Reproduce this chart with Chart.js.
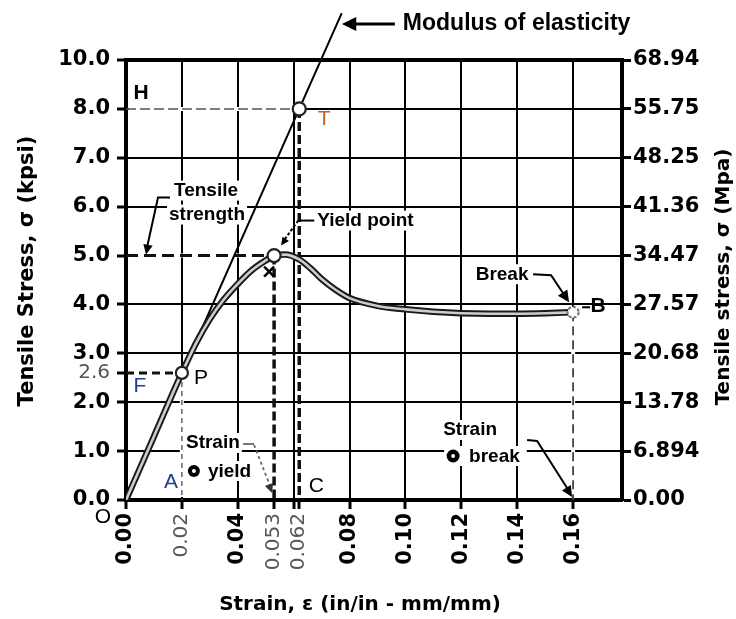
<!DOCTYPE html>
<html>
<head>
<meta charset="utf-8">
<script src="https://cdn.jsdelivr.net/npm/chart.js@4.4.1/dist/chart.umd.min.js"></script>
<style>
  html, body { margin: 0; padding: 0; background: #fff; }
</style>
</head>
<body>
<canvas id="stressStrain" width="736" height="619"></canvas>
<script>
// stress-strain curve, strain in in/in, stress in kpsi
const strain = [0, 0.01, 0.02, 0.025, 0.03, 0.035, 0.04, 0.045, 0.05, 0.053, 0.057, 0.062,
                0.066, 0.07, 0.075, 0.08, 0.09, 0.10, 0.11, 0.12, 0.13, 0.14, 0.15, 0.16];
const stress = [0, 1.3, 2.6, 3.2, 3.7, 4.1, 4.42, 4.7, 4.9, 5.0, 5.02, 4.92,
                4.74, 4.52, 4.3, 4.13, 3.97, 3.9, 3.85, 3.82, 3.81, 3.81, 3.82, 3.84];

// modulus of elasticity line through the origin and T
const modulusStrain = [0, 0.062, 0.0772];
const modulusStress = [0, 8.0, 9.96];

// marked points: P, yield point, T, break
const markStrain = [0.02, 0.053, 0.062, 0.16];
const markStress = [2.6, 5.0, 8.0, 3.84];

// axis ticks (the top kpsi line sits one step above 8.0 and reads 10.0)
const kpsiTicks = [0, 1, 2, 2.6, 3, 4, 5, 6, 7, 8, 9];
const kpsiLabels = ['0.0', '1.0', '2.0', '2.6', '3.0', '4.0', '5.0', '6.0', '7.0', '8.0', '10.0'];
const mpaTicks = [0, 1, 2, 3, 4, 5, 6, 7, 8, 9];
const mpaLabels = ['0.00', '6.894', '13.78', '20.68', '27.57', '34.47', '41.36', '48.25', '55.75', '68.94'];
const strainTicks = [0, 0.02, 0.04, 0.053, 0.06, 0.062, 0.08, 0.10, 0.12, 0.14, 0.16];
const strainLabels = ['0.00', '0.02', '0.04', '0.053', '', '0.062', '0.08', '0.10', '0.12', '0.14', '0.16'];
const thinStrain = [0.02, 0.053, 0.062];

const curve = strain.map((s, i) => ({ x: s, y: stress[i] }));
const modulus = modulusStrain.map((s, i) => ({ x: s, y: modulusStress[i] }));

const BOLD_TICK = { family: 'DejaVu Sans', size: 21, weight: 'bold' };
const THIN_TICK = { family: 'DejaVu Sans', size: 20, weight: 'normal' };
const NOTE = 'bold 19px "Liberation Sans"';

function arrowHead(ctx, fx, fy, tx, ty, size) {
  const a = Math.atan2(ty - fy, tx - fx);
  ctx.beginPath();
  ctx.moveTo(tx, ty);
  ctx.lineTo(tx - size * Math.cos(a - 0.45), ty - size * Math.sin(a - 0.45));
  ctx.lineTo(tx - size * Math.cos(a + 0.45), ty - size * Math.sin(a + 0.45));
  ctx.closePath();
  ctx.fill();
}

function polyline(ctx, pts) {
  ctx.beginPath();
  ctx.moveTo(pts[0][0], pts[0][1]);
  for (let i = 1; i < pts.length; i++) ctx.lineTo(pts[i][0], pts[i][1]);
  ctx.stroke();
}

// text with a white box behind it so grid lines break around it
function note(ctx, str, px, py, font, align, color, bg) {
  ctx.font = font;
  ctx.textAlign = align || 'center';
  ctx.textBaseline = 'middle';
  if (bg !== false) {
    const w = ctx.measureText(str).width;
    const left = align === 'left' ? px : px - w / 2;
    ctx.fillStyle = '#fff';
    ctx.fillRect(left - 2, py - 10, w + 4, 20);
  }
  ctx.fillStyle = color || '#000';
  ctx.fillText(str, px, py);
}

function circle(ctx, px, py, r, stroke, dash) {
  ctx.setLineDash(dash || []);
  ctx.beginPath();
  ctx.arc(px, py, r, 0, Math.PI * 2);
  ctx.fillStyle = '#fff';
  ctx.fill();
  ctx.lineWidth = 2.2;
  ctx.strokeStyle = stroke;
  ctx.stroke();
  ctx.setLineDash([]);
}

const notesPlugin = {
  id: 'notes',
  beforeDatasetsDraw(chart) {
    const { ctx, scales: { x, y } } = chart;
    const X = v => x.getPixelForValue(v);
    const Y = v => y.getPixelForValue(v);
    const [pS, ysS, tS, bS] = markStrain;
    const [pV, ysV, tV, bV] = markStress;
    ctx.save();

    // guide lines: [x1, y1, x2, y2, dash, width, colour, hides grid]
    const guides = [
      [0, tV, tS, tV, [10, 4], 1.5, '#555', true],
      [0, ysV, ysS, ysV, [12, 6], 3, '#111', true],
      [0, pV, pS, pV, [8, 5], 3, '#111', false],
      [pS, pV, pS, 0, [5, 4], 1.5, '#666', true],
      [ysS, ysV, ysS, 0, [9, 4], 3.5, '#111', false],
      [tS, tV, tS, 0, [9, 4], 3.5, '#111', false],
      [bS, bV, bS, 0, [9, 5], 1.8, '#444', true]
    ];
    guides.forEach(g => {
      let x1 = X(g[0]), y1 = Y(g[1]), x2 = X(g[2]), y2 = Y(g[3]);
      if (g[7]) {
        ctx.setLineDash([]);
        ctx.strokeStyle = '#fff';
        ctx.lineWidth = 4;
        const hx1 = g[0] === 0 ? x1 + 3 : x1;
        const hy2 = g[3] === 0 ? y2 - 3 : y2;
        polyline(ctx, [[hx1, y1], [x2, hy2]]);
      }
      ctx.setLineDash(g[4]);
      ctx.strokeStyle = g[6];
      ctx.lineWidth = g[5];
      polyline(ctx, [[x1, y1], [x2, y2]]);
    });
    ctx.setLineDash([]);

    // Tensile strength
    note(ctx, 'Tensile', X(0) + 80, Y(ysV) - 65, NOTE);
    note(ctx, 'strength', X(0) + 81, Y(ysV) - 41, NOTE);
    ctx.strokeStyle = '#000';
    ctx.fillStyle = '#000';
    ctx.lineWidth = 2;
    polyline(ctx, [[X(0) + 44, Y(ysV) - 58], [X(0) + 32, Y(ysV) - 58], [X(0) + 21, Y(ysV) - 8]]);
    arrowHead(ctx, X(0) + 32, Y(ysV) - 58, X(0) + 20, Y(ysV) - 1, 11);

    // Yield point
    note(ctx, 'Yield point', X(tS) + 18, Y(ysV) - 35, NOTE, 'left');
    ctx.strokeStyle = '#000';
    ctx.fillStyle = '#000';
    ctx.lineWidth = 2;
    polyline(ctx, [[X(tS) + 15, Y(ysV) - 35], [X(tS) - 1, Y(ysV) - 35]]);
    ctx.setLineDash([3, 2]);
    polyline(ctx, [[X(tS) - 1, Y(ysV) - 35], [X(ysS) + 9, Y(ysV) - 14]]);
    ctx.setLineDash([]);
    arrowHead(ctx, X(tS) - 1, Y(ysV) - 35, X(ysS) + 7, Y(ysV) - 10, 9);

    // Strain @ yield
    note(ctx, 'Strain', X(pS) + 31, Y(0) - 57, NOTE);
    ctx.font = NOTE;
    const yw = ctx.measureText('yield').width;
    ctx.fillStyle = '#fff';
    ctx.fillRect(X(pS) + 4, Y(0) - 39, yw + 30, 20);
    ctx.fillStyle = '#000';
    ctx.beginPath();
    ctx.arc(X(pS) + 12, Y(0) - 29, 6, 0, Math.PI * 2);
    ctx.fill();
    ctx.fillStyle = '#fff';
    ctx.beginPath();
    ctx.arc(X(pS) + 12, Y(0) - 29, 2, 0, Math.PI * 2);
    ctx.fill();
    note(ctx, 'yield', X(pS) + 26, Y(0) - 28, NOTE, 'left', '#000', false);
    ctx.strokeStyle = '#666';
    ctx.fillStyle = '#333';
    ctx.lineWidth = 1.8;
    polyline(ctx, [[X(ysS) - 31, Y(0) - 56], [X(ysS) - 20, Y(0) - 56]]);
    ctx.setLineDash([3, 3]);
    polyline(ctx, [[X(ysS) - 20, Y(0) - 55], [X(ysS) - 4, Y(0) - 14]]);
    ctx.setLineDash([]);
    arrowHead(ctx, X(ysS) - 9, Y(0) - 26, X(ysS) - 2, Y(0) - 7, 10);

    // Strain @ break
    note(ctx, 'Strain', X(bS) - 103, Y(0) - 70, NOTE);
    ctx.font = NOTE;
    const bw = ctx.measureText('break').width;
    ctx.fillStyle = '#fff';
    ctx.fillRect(X(bS) - 129, Y(0) - 54, bw + 32, 20);
    ctx.fillStyle = '#000';
    ctx.beginPath();
    ctx.arc(X(bS) - 120, Y(0) - 44, 6.5, 0, Math.PI * 2);
    ctx.fill();
    ctx.fillStyle = '#fff';
    ctx.beginPath();
    ctx.arc(X(bS) - 120, Y(0) - 44, 2, 0, Math.PI * 2);
    ctx.fill();
    note(ctx, 'break', X(bS) - 104, Y(0) - 43, NOTE, 'left', '#000', false);
    ctx.strokeStyle = '#000';
    ctx.fillStyle = '#000';
    ctx.lineWidth = 2;
    polyline(ctx, [[X(bS) - 46, Y(0) - 60], [X(bS) - 36, Y(0) - 59], [X(bS) - 6, Y(0) - 12]]);
    arrowHead(ctx, X(bS) - 36, Y(0) - 59, X(bS) - 1, Y(0) - 3, 12);

    // Break
    note(ctx, 'Break', X(bS) - 71, Y(bV) - 38, NOTE);
    ctx.strokeStyle = '#000';
    ctx.fillStyle = '#000';
    ctx.lineWidth = 2;
    polyline(ctx, [[X(bS) - 40, Y(bV) - 38], [X(bS) - 22, Y(bV) - 37], [X(bS) - 8, Y(bV) - 16]]);
    arrowHead(ctx, X(bS) - 22, Y(bV) - 37, X(bS) - 4, Y(bV) - 10, 13);

    ctx.restore();
  },
  afterDatasetsDraw(chart) {
    const { ctx, scales: { x, y } } = chart;
    const X = v => x.getPixelForValue(v);
    const Y = v => y.getPixelForValue(v);
    const [pS, ysS, tS, bS] = markStrain;
    const [pV, ysV, tV, bV] = markStress;
    ctx.save();

    circle(ctx, X(pS), Y(pV), 6, '#222');
    circle(ctx, X(ysS), Y(ysV), 6.5, '#222');
    circle(ctx, X(tS), Y(tV), 6.5, '#222');
    circle(ctx, X(bS), Y(bV), 5.5, '#777', [3, 2]);

    // small cross under the yield point
    ctx.strokeStyle = '#000';
    ctx.lineWidth = 2.5;
    const cx = X(ysS) - 5, cy = Y(ysV) + 16;
    polyline(ctx, [[cx - 5, cy - 5], [cx + 5, cy + 5]]);
    polyline(ctx, [[cx - 5, cy + 5], [cx + 5, cy - 5]]);

    // point letters
    const LETTER = '21px "Liberation Sans"';
    const LETTER_B = 'bold 21px "Liberation Sans"';
    note(ctx, 'H', X(0) + 15, Y(tV) - 16, LETTER_B, 'center', '#000', false);
    note(ctx, 'T', X(tS) + 25, Y(tV) + 10, LETTER, 'center', '#c4651c', false);
    note(ctx, 'P', X(pS) + 19, Y(pV) + 5, LETTER, 'center', '#000', false);
    note(ctx, 'F', X(0) + 14, Y(pV) + 13, LETTER, 'center', '#1d3f8c', false);
    note(ctx, 'A', X(pS) - 11, Y(0) - 18, LETTER, 'center', '#1d3f8c', false);
    note(ctx, 'C', X(tS) + 17, Y(0) - 14, LETTER, 'center', '#000', false);
    note(ctx, 'B', X(bS) + 25, Y(bV) - 6, LETTER_B, 'center', '#000', false);
    note(ctx, 'O', X(0) - 23, Y(0) + 17, LETTER, 'center', '#000', false);
    ctx.strokeStyle = '#000';
    ctx.lineWidth = 2;
    polyline(ctx, [[X(bS) + 9, Y(bV) - 5], [X(bS) + 17, Y(bV) - 5]]);

    // Modulus of elasticity call-out above the plot
    const ty = chart.chartArea.top - 36;
    const slope = modulusStress[1] / modulusStrain[1];
    const lineX = X(y.getValueForPixel(ty) / slope);
    ctx.font = 'bold 23px "Liberation Sans"';
    ctx.textAlign = 'left';
    ctx.textBaseline = 'middle';
    ctx.fillStyle = '#000';
    ctx.fillText('Modulus of elasticity', lineX + 66, ty);
    ctx.lineWidth = 3;
    polyline(ctx, [[lineX + 58, ty], [lineX + 14, ty]]);
    arrowHead(ctx, lineX + 30, ty, lineX + 5, ty, 16);

    // axis titles
    ctx.font = 'bold 21px "DejaVu Sans"';
    ctx.textAlign = 'center';
    ctx.fillStyle = '#000';
    ctx.save();
    ctx.translate(28, 271);
    ctx.rotate(-Math.PI / 2);
    ctx.fillText('Tensile Stress, \u03c3 (kpsi)', 0, 0);
    ctx.restore();
    ctx.save();
    ctx.font = 'bold 20px "DejaVu Sans"';
    ctx.translate(724, 277);
    ctx.rotate(-Math.PI / 2);
    ctx.fillText('Tensile stress, \u03c3 (Mpa)', 0, 0);
    ctx.restore();
    ctx.font = 'bold 20px "DejaVu Sans"';
    ctx.fillText('Strain, \u03b5 (in/in - mm/mm)', 360, 605);

    ctx.restore();
  }
};

const gridWidth = c => (c.tick && c.tick.value === 9 ? 4 : 2);

new Chart(document.getElementById('stressStrain'), {
  type: 'scatter',
  data: {
    datasets: [
      {
        data: modulus,
        showLine: true,
        borderColor: '#000',
        borderWidth: 2,
        pointRadius: 0,
        clip: false,
        order: 2
      },
      {
        // dark outer edge of the curve
        data: curve,
        showLine: true,
        borderColor: '#1a1a1a',
        borderWidth: 6.5,
        pointRadius: 0,
        cubicInterpolationMode: 'monotone',
        order: 1
      },
      {
        // light core on top, gives the double-line look
        data: curve,
        showLine: true,
        borderColor: '#c9cdd6',
        borderWidth: 2.6,
        pointRadius: 0,
        cubicInterpolationMode: 'monotone',
        order: 0
      }
    ]
  },
  options: {
    responsive: false,
    animation: false,
    layout: { padding: { top: 60, left: 0, right: 0, bottom: 0 } },
    plugins: { legend: { display: false }, tooltip: { enabled: false } },
    scales: {
      x: {
        type: 'linear',
        min: 0,
        max: 0.1775,
        afterBuildTicks: s => { s.ticks = strainTicks.map(v => ({ value: v })); },
        afterFit: s => { s.height = 119; },
        border: { color: '#000', width: 4 },
        grid: {
          color: c => (c.tick && (c.tick.value === 0.053 || c.tick.value === 0.062) ? 'rgba(0,0,0,0)' : '#000'),
          lineWidth: 2,
          tickColor: '#000',
          tickLength: 9,
          tickWidth: 3
        },
        ticks: {
          autoSkip: false,
          minRotation: 90,
          maxRotation: 90,
          padding: 4,
          font: c => (c.tick && thinStrain.includes(c.tick.value) ? THIN_TICK : BOLD_TICK),
          color: c => (c.tick && thinStrain.includes(c.tick.value) ? '#555' : '#000'),
          callback: (v, i) => strainLabels[i]
        }
      },
      y: {
        type: 'linear',
        min: 0,
        max: 9,
        afterBuildTicks: s => { s.ticks = kpsiTicks.map(v => ({ value: v })); },
        afterFit: s => { s.width = 126; },
        border: { color: '#000', width: 4 },
        grid: {
          color: c => (c.tick && c.tick.value === 2.6 ? 'rgba(0,0,0,0)' : '#000'),
          lineWidth: gridWidth,
          tickColor: '#000',
          tickLength: 9,
          tickWidth: 3
        },
        ticks: {
          autoSkip: false,
          padding: 7,
          font: c => (c.tick && c.tick.value === 2.6 ? THIN_TICK : BOLD_TICK),
          color: c => (c.tick && c.tick.value === 2.6 ? '#555' : '#000'),
          callback: (v, i) => kpsiLabels[i]
        }
      },
      y1: {
        type: 'linear',
        position: 'right',
        min: 0,
        max: 9,
        afterBuildTicks: s => { s.ticks = mpaTicks.map(v => ({ value: v })); },
        afterFit: s => { s.width = 114; },
        border: { color: '#000', width: 4 },
        grid: {
          drawOnChartArea: false,
          color: '#000',
          tickColor: '#000',
          tickLength: 9,
          tickWidth: 3
        },
        ticks: {
          autoSkip: false,
          padding: 2,
          font: BOLD_TICK,
          color: '#000',
          callback: (v, i) => mpaLabels[i]
        }
      }
    }
  },
  plugins: [notesPlugin]
});
</script>
</body>
</html>
